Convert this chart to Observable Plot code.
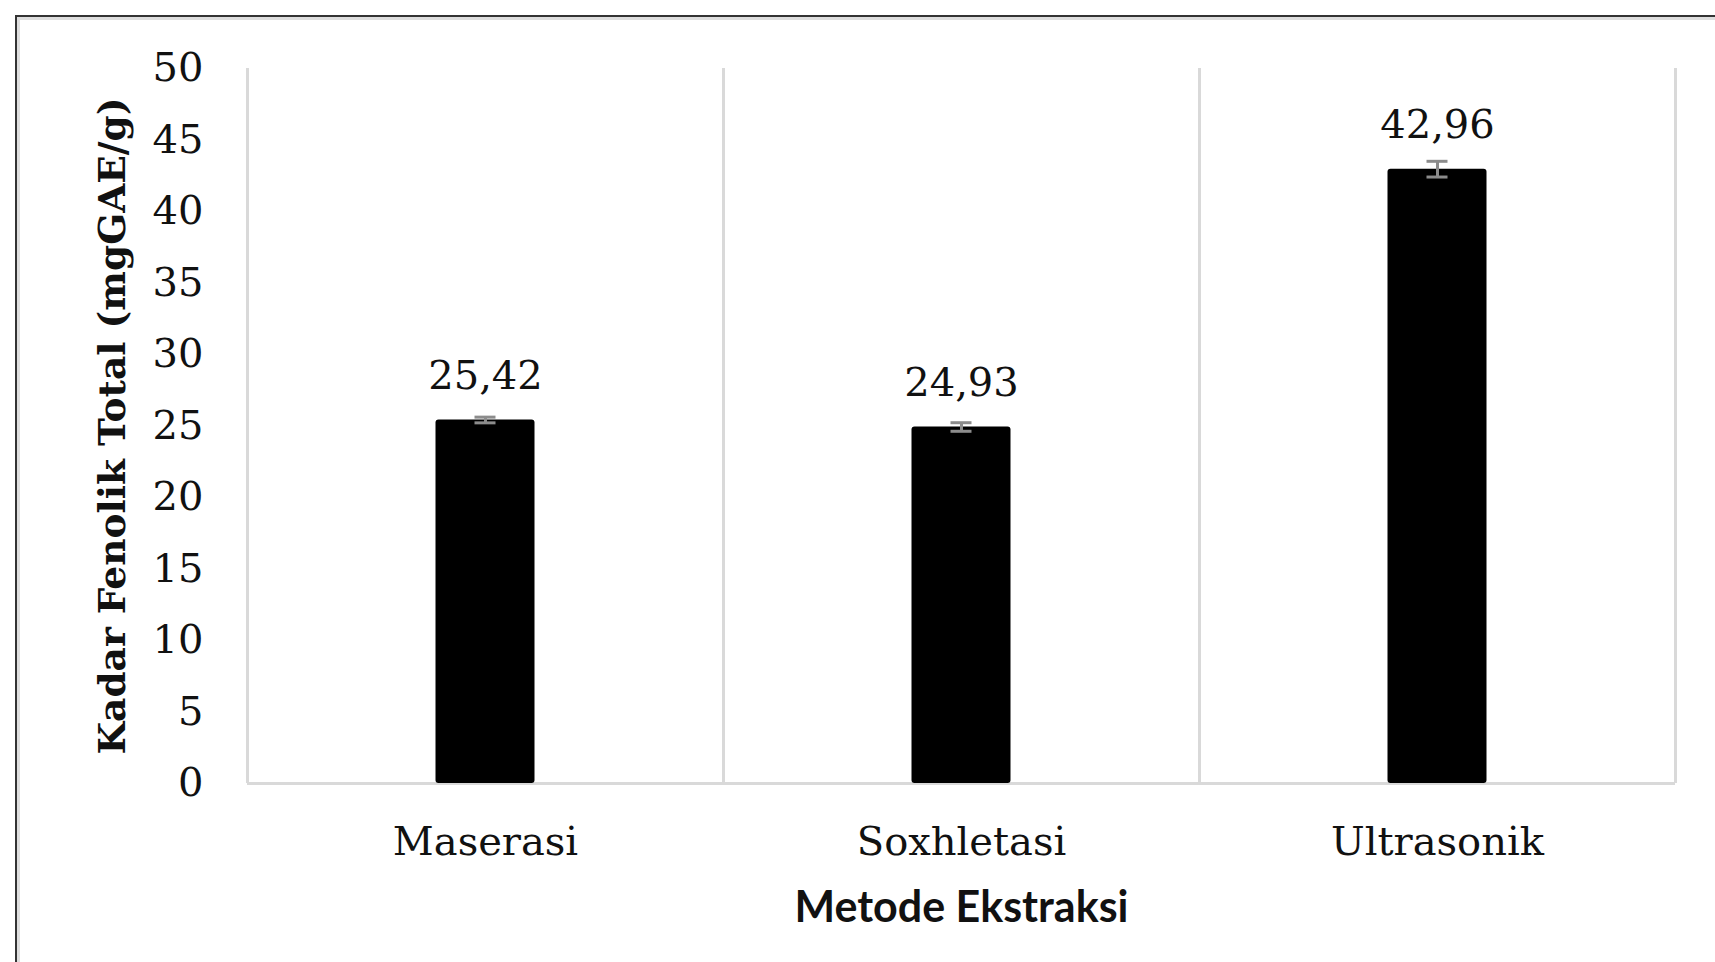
<!DOCTYPE html>
<html>
<head>
<meta charset="utf-8">
<script src="https://cdn.jsdelivr.net/npm/d3@7"></script>
<script src="https://cdn.jsdelivr.net/npm/@observablehq/plot@0.6"></script>
<style>
  html, body { margin: 0; padding: 0; background: #fff; }
  #wrap { position: relative; width: 1715px; height: 962px; overflow: hidden; }
  #frame { position: absolute; left: 15px; top: 15px; width: 1760px; height: 1000px;
           border-left: 2px solid #333; border-top: 2px solid #333;
           box-shadow: inset 3px 3px 0 #dedede; box-sizing: border-box; }
  #chart { position: absolute; left: 0; top: 0; }
</style>
</head>
<body>
<div id="wrap"><div id="frame"></div><div id="chart"></div></div>
<script>
const categories = ["Maserasi", "Soxhletasi", "Ultrasonik"];
const values = [25.42, 24.93, 42.96];
const errors = [0.2, 0.3, 0.55];
const labels = ["25,42", "24,93", "42,96"];
const yTicks = [0, 5, 10, 15, 20, 25, 30, 35, 40, 45, 50];

const data = categories.map((c, i) => ({cat: c, value: values[i], err: errors[i], label: labels[i]}));

const W = 1715, H = 962;
const mL = 247, mR = 40, mT = 68, mB = 179;
const step = (W - mL - mR) / categories.length;
const barW = 99, capW = 21;
const serif = "DejaVu Serif";

const plot = Plot.plot({
  width: W, height: H,
  marginLeft: mL, marginRight: mR, marginTop: mT, marginBottom: mB,
  style: {fontFamily: serif, background: "transparent"},
  x: {domain: categories, padding: 0, label: null},
  y: {domain: [0, 50], label: null},
  marks: [
    // category separators
    Plot.ruleX(categories, {x: d => d, y1: 0, y2: 50, dx: -step / 2, stroke: "#d9d9d9", strokeWidth: 3}),
    Plot.ruleX([categories[categories.length - 1]], {x: d => d, y1: 0, y2: 50, dx: step / 2, stroke: "#d9d9d9", strokeWidth: 3}),
    Plot.ruleY([0], {stroke: "#d9d9d9", strokeWidth: 3}),
    Plot.barY(data, {x: "cat", y: "value", fill: "#000", inset: (step - barW) / 2, insetTop: 0, insetBottom: 0, rx: 3}),
    Plot.ruleX(data, {x: "cat", y1: d => d.value - d.err, y2: d => d.value + d.err, stroke: "#8c8c8c", strokeWidth: 3}),
    Plot.tickY(data, {x: "cat", y: d => d.value - d.err, stroke: "#8c8c8c", strokeWidth: 3, inset: (step - capW) / 2}),
    Plot.tickY(data, {x: "cat", y: d => d.value + d.err, stroke: "#8c8c8c", strokeWidth: 3, inset: (step - capW) / 2}),
    Plot.text(data, {x: "cat", y: "value", text: "label", dy: -44, fontSize: 40, fontFamily: serif, fill: "#111", lineAnchor: "middle"}),
    Plot.axisY({ticks: yTicks, tickFormat: d => String(d), tickSize: 0, tickPadding: 44, fontSize: 40, fontFamily: serif, fill: "#111", label: null}),
    Plot.axisX({tickSize: 0, tickPadding: 0, dy: 59, lineAnchor: "middle", fontSize: 40, fontFamily: serif, fill: "#111", label: null}),
    Plot.text(["Kadar Fenolik Total (mgGAE/g)"], {frameAnchor: "left", dx: -135, rotate: -90, textAnchor: "middle", lineAnchor: "middle", fontSize: 37.5, fontWeight: "bold", fontFamily: serif, fill: "#111"}),
    Plot.text(["Metode Ekstraksi"], {frameAnchor: "bottom", dy: 125, textAnchor: "middle", lineAnchor: "middle", fontSize: 43, fontWeight: "bold", fontFamily: "Lato", fill: "#111"})
  ]
});
document.getElementById("chart").appendChild(plot);
</script>
</body>
</html>
